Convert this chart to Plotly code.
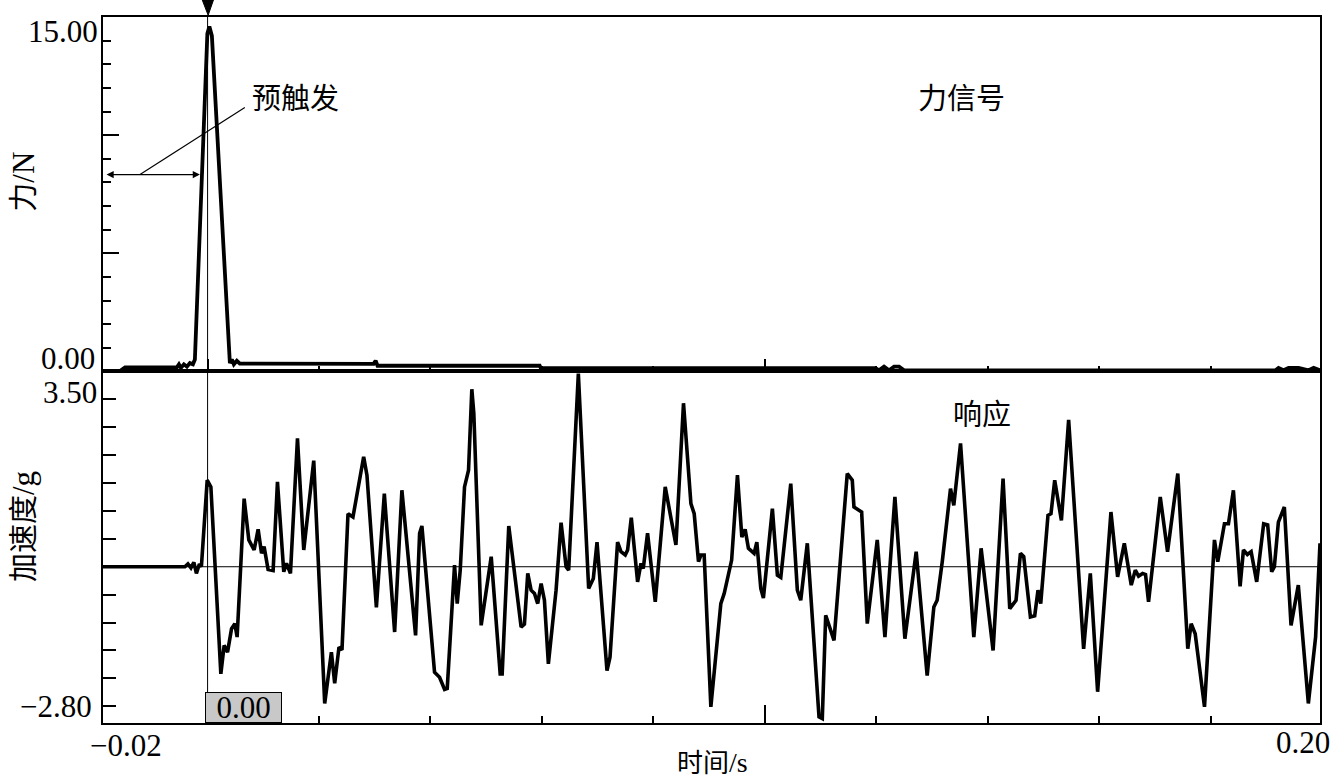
import plotly.graph_objects as go

# ---------------- data ----------------
# Force signal (top panel), time in ms
force_t_ms = [-18.77, -15.72, -14.82, -5.50, -5.14, -4.79, -4.25, -3.71, -3.17, -2.63,
              -2.28, -0.04, 0.32, 0.77, 4.00, 4.36, 4.71, 5.25, 5.79, 29.8,
              30.16, 30.5, 59.6, 59.8, 119.9, 120.5, 121.4, 122.3, 123.2, 124.1,
              125.0, 126.8, 191.6, 192.2, 193.1, 194.0, 195.8, 197.6, 198.5, 199.64]
force_N = [0.02, 0.02, 0.17, 0.17, 0.3, 0.15, 0.3, 0.2, 0.35, 0.3,
           0.5, 14.3, 14.6, 14.2, 0.35, 0.5, 0.3, 0.45, 0.33, 0.32,
           0.45, 0.24, 0.24, 0.14, 0.14, 0.05, 0.2, 0.05, 0.2, 0.2,
           0.05, 0.04, 0.04, 0.15, 0.05, 0.15, 0.15, 0.05, 0.15, 0.05]

# Acceleration response (bottom panel), time in ms
resp_t_ms = [-18.77, -4.07, -3.53, -2.99, -2.46, -2.01, -1.47, -1.11, -0.07, 0.59,
             2.38, 2.97, 3.58, 4.30, 4.89, 5.30, 6.56, 7.40, 8.35, 9.07,
             9.68, 10.14, 10.86, 11.76, 12.54, 13.67, 14.16, 14.87, 16.13, 17.26,
             19.05, 21.02, 22.22, 22.81, 23.58, 24.12, 25.20, 26.09, 28.01, 28.60,
             30.29, 31.72, 32.19, 33.57, 34.87, 37.33, 38.05, 38.46, 40.73, 41.63,
             42.53, 43.01, 44.32, 44.80, 45.34, 46.11, 46.83, 47.42, 47.78, 49.10,
             50.90, 52.51, 52.87, 54.05, 56.27, 56.86, 57.46, 58.06, 58.66, 59.25,
             59.86, 60.45, 61.16, 61.94, 62.54, 63.44, 64.34, 64.80, 66.54, 68.39,
             69.23, 69.89, 71.68, 72.22, 73.58, 74.19, 74.96, 75.38, 76.04, 77.17,
             77.78, 78.19, 78.96, 80.34, 82.13, 84.05, 85.41, 86.74, 87.33, 88.10,
             88.53, 89.12, 90.32, 92.11, 92.71, 94.05, 95.09, 95.88, 96.47, 97.06,
             98.08, 98.57, 99.28, 99.75, 101.36, 102.26, 102.87, 104.66, 105.84, 106.45,
             107.63, 109.73, 110.32, 110.93, 112.42, 114.80, 115.70, 116.00, 117.38, 118.39,
             119.18, 120.18, 121.56, 123.35, 125.14, 127.17, 129.14, 130.34, 130.93, 131.86,
             133.33, 133.92, 135.13, 137.51, 138.82, 140.97, 142.76, 143.96, 145.09, 145.88,
             146.47, 147.67, 148.44, 149.03, 149.52, 150.82, 151.36, 152.03, 153.23, 154.53,
             157.22, 158.42, 159.73, 162.12, 163.32, 164.52, 165.77, 166.49, 167.08, 167.80,
             168.33, 168.87, 170.97, 172.28, 174.12, 175.91, 176.52, 177.24, 178.91, 180.70,
             181.29, 182.49, 183.21, 184.10, 185.30, 185.90, 186.61, 187.28, 188.28, 189.53,
             190.25, 190.97, 191.45, 192.17, 193.24, 194.44, 195.75, 197.55, 198.85, 199.64]
resp_g = [0, 0, 0.05, -0.02, 0.08, -0.12, 0.05, 0.0, 1.55, 1.43,
          -1.92, -1.41, -1.53, -1.11, -1.02, -1.26, 1.22, 0.48, 0.30, 0.67,
          0.24, 0.36, -0.05, -0.07, 1.52, -0.09, 0.06, -0.12, 2.30, 0.30,
          1.90, -2.45, -1.53, -2.09, -1.44, -1.49, 0.95, 0.89, 1.97, 1.64,
          -0.73, 1.31, 0.67, -1.17, 1.37, -1.23, 0.60, 0.73, -1.89, -1.98,
          -2.20, -2.18, 0.03, -0.66, -0.06, 1.43, 1.73, 3.18, 2.75, -1.05,
          0.18, -1.92, -1.92, 0.73, -1.08, -1.03, -0.12, -0.42, -0.48, -0.66,
          -0.30, -0.60, -1.74, -0.96, -0.42, 0.79, 0.0, -0.06, 3.46, -0.39,
          -0.21, 0.44, -1.86, -1.62, 0.44, 0.27, 0.21, 0.30, 0.88, -0.27,
          0.06, -0.03, 0.60, -0.63, 1.43, 0.39, 2.93, 1.13, 0.95, 0.09,
          0.21, 0.21, -2.51, -0.66, -0.48, 0.12, 1.64, 0.53, 0.67, 0.33,
          0.24, 0.44, -0.39, -0.56, 1.04, -0.15, -0.19, 1.49, -0.42, -0.60,
          0.42, -2.69, -2.72, -0.87, -1.32, 1.67, 1.55, 1.07, 0.98, -1.02,
          -0.3, 0.48, -1.26, 1.25, -1.29, 0.27, -1.95, -0.72, -0.60, 0.10,
          1.40, 1.10, 2.21, -1.26, 0.33, -1.50, 1.58, -0.75, -0.60, 0.24,
          0.18, -0.90, -0.88, -0.42, -0.66, 0.92, 0.95, 1.55, 0.83, 2.63,
          -1.47, -0.12, -2.24, 0.98, -0.18, 0.42, -0.33, -0.06, -0.17, -0.12,
          -0.14, -0.63, 1.25, 0.27, 1.67, -1.47, -1.02, -1.20, -2.51, 0.48,
          0.09, 0.77, 0.77, 1.37, -0.35, 0.30, 0.22, 0.27, -0.27, 0.77,
          0.75, -0.09, 0.0, 0.80, 1.07, -1.05, -0.33, -2.45, -1.26, 0.42]

x_range = [-0.01877, 0.19964]
force_range = [0, 15]
resp_range = [-2.8, 3.5]
x_end_labels = ["−0.02", "0.20"]
force_end_labels = ["15.00", "0.00"]
resp_end_labels = ["3.50", "−2.80"]

force_t = [t / 1000 for t in force_t_ms]
resp_t = [t / 1000 for t in resp_t_ms]

NUM_FONT = "Liberation Serif, Noto Sans CJK SC"
CJK_FONT = "Noto Sans CJK SC, Liberation Serif"
NUM_SIZE = 31
CJK_SIZE = 29

fig = go.Figure()
fig.add_trace(go.Scatter(x=force_t, y=force_N, mode="lines",
                         line=dict(color="black", width=3.8),
                         xaxis="x", yaxis="y", showlegend=False))
fig.add_trace(go.Scatter(x=resp_t, y=resp_g, mode="lines",
                         line=dict(color="black", width=3.6),
                         xaxis="x2", yaxis="y2", showlegend=False))

split = 0.498
axis_common = dict(showline=True, mirror=True, linecolor="black", linewidth=2,
                   showgrid=False, zeroline=False, showticklabels=False,
                   ticks="inside", tickcolor="black", tickwidth=1.5)

fig.update_layout(
    width=1331, height=782,
    margin=dict(l=103, r=9, t=17, b=59),
    paper_bgcolor="white", plot_bgcolor="white",
    xaxis=dict(domain=[0, 1], anchor="y", range=x_range, tick0=0, dtick=0.1, ticklen=12,
               minor=dict(dtick=0.02, ticklen=5, ticks="inside", tickcolor="black", tickwidth=1.5),
               **axis_common),
    yaxis=dict(domain=[split, 1], anchor="x", range=force_range, tick0=0, dtick=5, ticklen=16,
               minor=dict(dtick=1, ticklen=8, ticks="inside", tickcolor="black", tickwidth=1.5),
               **axis_common),
    xaxis2=dict(domain=[0, 1], anchor="y2", range=x_range, tick0=0, dtick=0.1, ticklen=18,
                minor=dict(dtick=0.02, ticklen=7, ticks="inside", tickcolor="black", tickwidth=1.5),
                **axis_common),
    yaxis2=dict(domain=[0, split], anchor="x2", range=resp_range, tick0=0, dtick=0.5, ticklen=13,
                **axis_common),
)

# zero line of the response panel
fig.add_shape(type="line", xref="x2", yref="y2", x0=x_range[0], x1=x_range[1], y0=0, y1=0,
              line=dict(color="black", width=1))
# trigger cursor through both panels
fig.add_shape(type="line", xref="x", yref="paper", x0=0, x1=0, y0=0, y1=1.003,
              line=dict(color="black", width=1))
fig.add_shape(type="path", xref="x", yref="paper",
              path="M -0.00095,1.024 L 0.00105,1.024 L 0.0001,1.0025 Z",
              fillcolor="black", line=dict(color="black", width=1))

# pre-trigger arrow and leader line
fig.add_annotation(x=-0.00138, y=8.33, ax=-0.0184, ay=8.33, xref="x", yref="y",
                   axref="x", ayref="y", text="", showarrow=True, arrowside="end+start",
                   arrowhead=2, startarrowhead=2, arrowsize=1.3, startarrowsize=1.3,
                   arrowwidth=1.1, arrowcolor="black")
fig.add_shape(type="line", xref="x", yref="y", x0=0.00668, y0=11.17, x1=-0.01213, y1=8.33,
              line=dict(color="black", width=1.2))

def txt(text, x, y, xref, yref, size, family, **kw):
    kw.setdefault("xanchor", "center")
    kw.setdefault("yanchor", "middle")
    fig.add_annotation(text=text, x=x, y=y, xref=xref, yref=yref, showarrow=False,
                       font=dict(family=family, size=size, color="black"), **kw)

def lat(s, size=31):
    return ("<span style='font-family:Liberation Serif;font-size:%dpx'>" % size) + s + "</span>"

# in-plot texts
txt("预触发", 0.01582, 11.64, "x", "y", CJK_SIZE, CJK_FONT)
txt("力信号", 0.13536, 11.64, "x", "y", CJK_SIZE, CJK_FONT)
txt("响应", 0.13894, 2.77, "x2", "y2", CJK_SIZE, CJK_FONT)

# axis end labels
txt(force_end_labels[0], 0, 14.40, "paper", "y", NUM_SIZE, NUM_FONT, xanchor="right", xshift=-3)
txt(force_end_labels[1], 0, 0.55, "paper", "y", NUM_SIZE, NUM_FONT, xanchor="right", xshift=-6)
txt(resp_end_labels[0], 0, 3.13, "paper", "y2", NUM_SIZE, NUM_FONT, xanchor="right", xshift=-4)
txt(resp_end_labels[1], 0, -2.51, "paper", "y2", NUM_SIZE, NUM_FONT, xanchor="right", xshift=-9)
txt(x_end_labels[0], -0.01464, 0, "x2", "paper", NUM_SIZE, NUM_FONT, yshift=-22)
txt(x_end_labels[1], 0.19665, 0, "x2", "paper", NUM_SIZE, NUM_FONT, yshift=-19)

# axis titles
txt("时间" + lat("/s", 28), 0.09056, 0, "x2", "paper", 26, CJK_FONT, yshift=-37)
txt("力" + lat("/N"), 0, 8.03, "paper", "y", CJK_SIZE, CJK_FONT, xshift=-82, textangle=-90)
txt("加速度" + lat("/g"), 0, 0.71, "paper", "y2", CJK_SIZE, CJK_FONT, xshift=-82, textangle=-90)

# cursor value box
fig.add_annotation(text="0.00", x=0.00642, y=-2.53, xref="x2", yref="y2", showarrow=False,
                   font=dict(family=NUM_FONT, size=NUM_SIZE, color="black"),
                   bgcolor="#c8c8c8", bordercolor="black", borderwidth=1, borderpad=1,
                   width=73, height=27)

fig.write_html("out.html", config={"displayModeBar": False},
               post_script="document.body.style.margin='0px';document.body.style.padding='0px';")
